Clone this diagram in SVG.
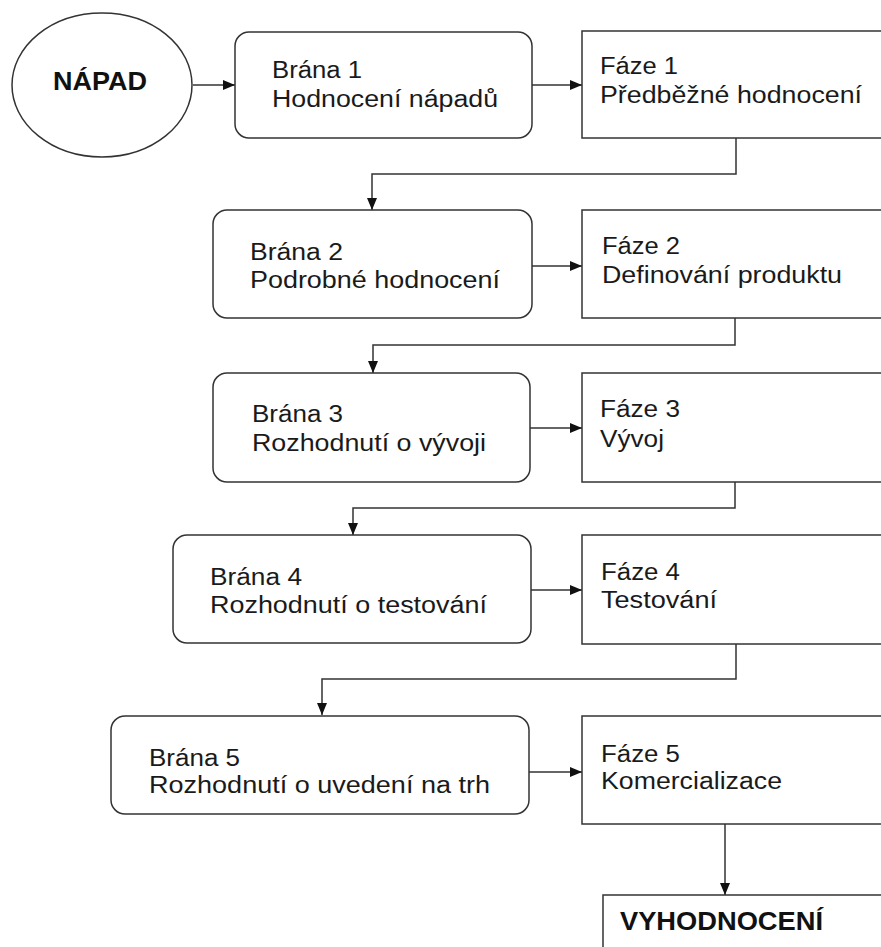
<svg xmlns="http://www.w3.org/2000/svg" width="881" height="947" viewBox="0 0 881 947">
<defs>
<style>
.box{fill:#fff;stroke:#333;stroke-width:1.5}
.t{font-family:"Liberation Sans",Arial,sans-serif;font-size:23px;fill:#1a1a1a}
.b{font-family:"Liberation Sans",Arial,sans-serif;font-size:25px;font-weight:bold;fill:#111}
.c{fill:none;stroke:#333;stroke-width:1.5}
</style>
<marker id="ah" viewBox="0 0 12 10" refX="12" refY="5" markerWidth="12" markerHeight="10" markerUnits="userSpaceOnUse" orient="auto">
<path d="M0,0 L12,5 L0,10 z" fill="#111"/>
</marker>
</defs>
<rect width="881" height="947" fill="#fff"/>
<g id="connectors">
<path class="c" d="M193,85 H235" marker-end="url(#ah)"/>
<path class="c" d="M532,85 H582" marker-end="url(#ah)"/>
<path class="c" d="M736,138 V174 H372 V210" marker-end="url(#ah)"/>
<path class="c" d="M532,266 H582" marker-end="url(#ah)"/>
<path class="c" d="M735,318 V345 H373 V373" marker-end="url(#ah)"/>
<path class="c" d="M530,428 H582" marker-end="url(#ah)"/>
<path class="c" d="M735,482 V508 H353 V535" marker-end="url(#ah)"/>
<path class="c" d="M531,590 H582" marker-end="url(#ah)"/>
<path class="c" d="M736,644 V679 H322 V715" marker-end="url(#ah)"/>
<path class="c" d="M529,772 H582" marker-end="url(#ah)"/>
<path class="c" d="M725,824 V895" marker-end="url(#ah)"/>
</g>
<g id="napad">
<ellipse class="box" cx="102" cy="85" rx="90" ry="72"/>
<text class="b" x="53" y="90" textLength="94" lengthAdjust="spacingAndGlyphs">NÁPAD</text>
</g>
<g id="brana1">
<rect class="box" x="235" y="32" width="297" height="106" rx="14"/>
<text class="t" x="272" y="78" textLength="90" lengthAdjust="spacingAndGlyphs">Brána 1</text>
<text class="t" x="272" y="107" textLength="226" lengthAdjust="spacingAndGlyphs">Hodnocení nápadů</text>
</g>
<g id="faze1">
<rect class="box" x="582" y="31" width="320" height="107"/>
<text class="t" x="600" y="74" textLength="78" lengthAdjust="spacingAndGlyphs">Fáze 1</text>
<text class="t" x="600" y="103" textLength="262" lengthAdjust="spacingAndGlyphs">Předběžné hodnocení</text>
</g>
<g id="brana2">
<rect class="box" x="213" y="210" width="319" height="108" rx="14"/>
<text class="t" x="250" y="260" textLength="93" lengthAdjust="spacingAndGlyphs">Brána 2</text>
<text class="t" x="250" y="288" textLength="250" lengthAdjust="spacingAndGlyphs">Podrobné hodnocení</text>
</g>
<g id="faze2">
<rect class="box" x="582" y="210" width="320" height="108"/>
<text class="t" x="602" y="254" textLength="78" lengthAdjust="spacingAndGlyphs">Fáze 2</text>
<text class="t" x="602" y="283" textLength="240" lengthAdjust="spacingAndGlyphs">Definování produktu</text>
</g>
<g id="brana3">
<rect class="box" x="213" y="373" width="317" height="109" rx="14"/>
<text class="t" x="252" y="422" textLength="91" lengthAdjust="spacingAndGlyphs">Brána 3</text>
<text class="t" x="252" y="451" textLength="234" lengthAdjust="spacingAndGlyphs">Rozhodnutí o vývoji</text>
</g>
<g id="faze3">
<rect class="box" x="582" y="373" width="320" height="109"/>
<text class="t" x="600" y="417" textLength="80" lengthAdjust="spacingAndGlyphs">Fáze 3</text>
<text class="t" x="600" y="447" textLength="64" lengthAdjust="spacingAndGlyphs">Vývoj</text>
</g>
<g id="brana4">
<rect class="box" x="173" y="535" width="358" height="108" rx="14"/>
<text class="t" x="210" y="585" textLength="92" lengthAdjust="spacingAndGlyphs">Brána 4</text>
<text class="t" x="210" y="613" textLength="277" lengthAdjust="spacingAndGlyphs">Rozhodnutí o testování</text>
</g>
<g id="faze4">
<rect class="box" x="582" y="535" width="320" height="109"/>
<text class="t" x="601" y="580" textLength="79" lengthAdjust="spacingAndGlyphs">Fáze 4</text>
<text class="t" x="601" y="608" textLength="116" lengthAdjust="spacingAndGlyphs">Testování</text>
</g>
<g id="brana5">
<rect class="box" x="111" y="716" width="418" height="98" rx="14"/>
<text class="t" x="149" y="766" textLength="91" lengthAdjust="spacingAndGlyphs">Brána 5</text>
<text class="t" x="149" y="793" textLength="341" lengthAdjust="spacingAndGlyphs">Rozhodnutí o uvedení na trh</text>
</g>
<g id="faze5">
<rect class="box" x="582" y="716" width="320" height="108"/>
<text class="t" x="601" y="762" textLength="79" lengthAdjust="spacingAndGlyphs">Fáze 5</text>
<text class="t" x="601" y="789" textLength="181" lengthAdjust="spacingAndGlyphs">Komercializace</text>
</g>
<g id="vyhodnoceni">
<rect class="box" x="603" y="895" width="300" height="80"/>
<text class="b" x="620" y="930" textLength="203" lengthAdjust="spacingAndGlyphs">VYHODNOCENÍ</text>
</g>
</svg>
